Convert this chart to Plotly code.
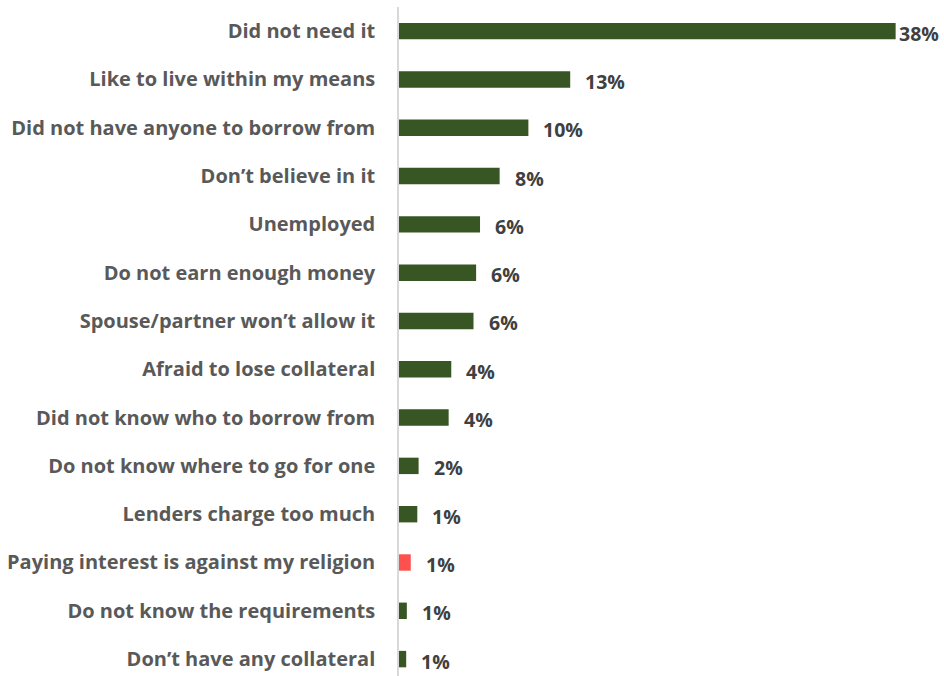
import plotly.graph_objects as go

# Reasons for not borrowing (share of respondents, %)
reasons = [
    "Did not need it",
    "Like to live within my means",
    "Did not have anyone to borrow from",
    "Don\u2019t believe in it",
    "Unemployed",
    "Do not earn enough money",
    "Spouse/partner won\u2019t allow it",
    "Afraid to lose collateral",
    "Did not know who to borrow from",
    "Do not know where to go for one",
    "Lenders charge too much",
    "Paying interest is against my religion",
    "Do not know the requirements",
    "Don\u2019t have any collateral",
]
shares = [38.0, 13.1, 9.9, 7.7, 6.2, 5.9, 5.7, 4.0, 3.8, 1.5, 1.4, 0.9, 0.6, 0.55]
highlight = "Paying interest is against my religion"

GREEN = "#375623"
RED = "#FF5050"
colors = [RED if r == highlight else GREEN for r in reasons]

FONT = "Open Sans, sans-serif"
XMAX = 41.7

fig = go.Figure(
    go.Bar(
        x=shares,
        y=reasons,
        orientation="h",
        marker=dict(color=colors, line=dict(width=0)),
        width=0.34,
        hoverinfo="skip",
    )
)

# Value labels just past the end of each bar
for r, v in zip(reasons, shares):
    near_edge = v > XMAX * 0.85
    fig.add_annotation(
        x=v, y=r, xref="x", yref="y",
        text=f"{v:.0f}%",
        showarrow=False,
        xanchor="left",
        yanchor="middle",
        xshift=1 if near_edge else 13,
        yshift=-2,
        font=dict(family=FONT, size=19.5, color="#404040", weight="bold"),
    )

fig.update_layout(
    width=944,
    height=676,
    margin=dict(l=399, r=0, t=7, b=0),
    plot_bgcolor="white",
    paper_bgcolor="white",
    showlegend=False,
    xaxis=dict(range=[0, XMAX], visible=False, fixedrange=True),
    yaxis=dict(
        categoryorder="array",
        categoryarray=reasons,
        range=[13.35, -0.5],
        showline=True,
        linecolor="#d9d9d9",
        linewidth=1.5,
        showgrid=False,
        ticks="",
        ticklabelstandoff=18,
        tickfont=dict(family=FONT, size=20, color="#595959", weight="bold"),
    ),
)

fig.write_html("out.html")
